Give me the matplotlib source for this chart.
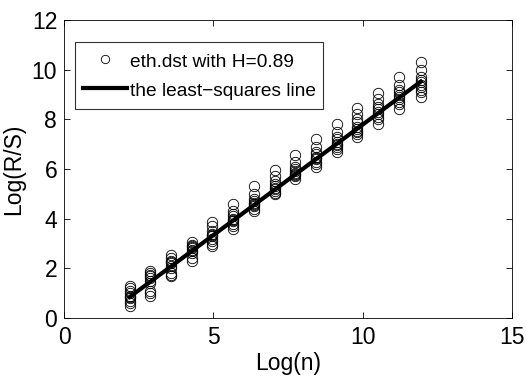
import numpy as np
import matplotlib.pyplot as plt

plt.rcParams['font.family'] = ['Liberation Sans', 'DejaVu Sans']

# Log(n) positions of each block size
log_n = [2.2, 2.89, 3.59, 4.28, 4.97, 5.67, 6.36, 7.05, 7.74, 8.44,
         9.13, 9.82, 10.52, 11.21, 11.95]

# Log(R/S) values observed at each Log(n) (10 per block size)
log_rs = [
    [1.3, 1.2, 1.1, 1.0, 0.9, 0.85, 0.8, 0.7, 0.6, 0.5],
    [1.9, 1.8, 1.75, 1.7, 1.6, 1.5, 1.4, 1.1, 1.0, 0.9],
    [2.55, 2.4, 2.3, 2.25, 2.2, 2.1, 2.0, 1.8, 1.75, 1.7],
    [3.05, 2.95, 2.9, 2.85, 2.8, 2.75, 2.7, 2.6, 2.4, 2.3],
    [3.85, 3.7, 3.5, 3.4, 3.35, 3.3, 3.2, 3.1, 3.0, 2.9],
    [4.6, 4.3, 4.2, 4.1, 4.0, 3.95, 3.9, 3.8, 3.7, 3.6],
    [5.3, 5.0, 4.8, 4.7, 4.65, 4.6, 4.55, 4.5, 4.4, 4.3],
    [5.95, 5.7, 5.5, 5.4, 5.3, 5.25, 5.2, 5.1, 5.05, 5.0],
    [6.55, 6.3, 6.1, 6.0, 5.9, 5.85, 5.8, 5.75, 5.7, 5.6],
    [7.2, 6.9, 6.7, 6.6, 6.5, 6.45, 6.4, 6.3, 6.2, 6.1],
    [7.8, 7.5, 7.3, 7.2, 7.1, 7.0, 6.95, 6.9, 6.8, 6.7],
    [8.45, 8.2, 8.0, 7.9, 7.7, 7.6, 7.55, 7.5, 7.4, 7.3],
    [9.05, 8.8, 8.6, 8.5, 8.4, 8.3, 8.2, 8.1, 8.0, 7.8],
    [9.7, 9.4, 9.2, 9.1, 9.0, 8.9, 8.8, 8.7, 8.6, 8.4],
    [10.3, 10.0, 9.7, 9.6, 9.5, 9.4, 9.3, 9.2, 9.1, 8.9],
]

# least-squares line endpoints
fit_x = [2.2, 11.95]
fit_y = [0.85, 9.52]

fig = plt.figure(figsize=(5.26, 3.85), dpi=100)
ax = fig.add_axes([0.122, 0.174, 0.851, 0.774])

xs = np.repeat(log_n, [len(v) for v in log_rs])
ys = np.concatenate(log_rs)
ax.plot(xs, ys, 'o', mfc='none', mec='black', ms=7.5, mew=0.6,
        label='eth.dst with H=0.89')
ax.plot(fit_x, fit_y, '-', color='black', lw=3, label='the least\u2212squares line')

ax.set_xlim(0, 15)
ax.set_ylim(0, 12)
ax.set_xticks([0, 5, 10, 15])
ax.set_yticks([0, 2, 4, 6, 8, 10, 12])
ax.tick_params(direction='in', top=True, right=True, labelsize=16.5,
               length=4, width=0.6)
ax.tick_params(axis='x', pad=6)
ax.tick_params(axis='y', pad=5)
for s in ax.spines.values():
    s.set_linewidth(0.6)

ax.set_xlabel('Log(n)', fontsize=16.5, labelpad=2)
ax.set_ylabel('Log(R/S)', fontsize=16.5, labelpad=5)

leg = ax.legend(loc='upper left', bbox_to_anchor=(0.024, 0.925), fontsize=13.8,
                frameon=True, fancybox=False, borderpad=0.4, handlelength=2.3,
                handleheight=1.4, handletextpad=0.15, labelspacing=0.35,
                borderaxespad=0, markerscale=0.8)
leg.get_frame().set_edgecolor('black')
leg.get_frame().set_linewidth(0.8)

fig.savefig('out.png', dpi=100)
